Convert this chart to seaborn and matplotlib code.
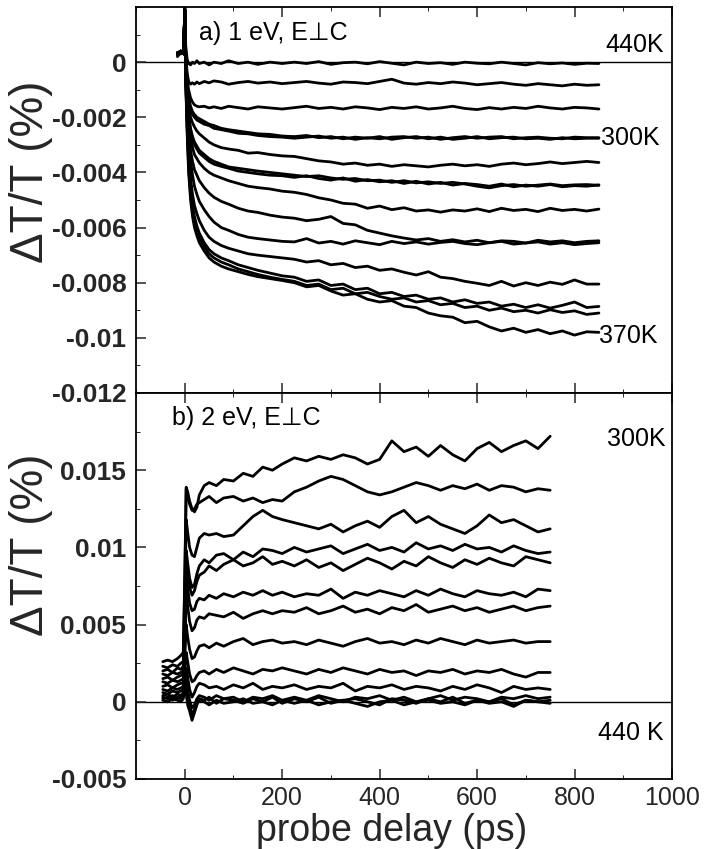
import numpy as np
import pandas as pd
import matplotlib
matplotlib.use("Agg")
import matplotlib.pyplot as plt
from matplotlib.ticker import MultipleLocator
import seaborn as sns

# values are read in units of 0.001 % (converted with SCALE below)
SCALE = 1e-3

# ---------------- panel a) 1 eV, E perp C ----------------
delay_a = [-15, -8, -2, 0, 2, 5, 8, 12, 16, 20, 25, 30, 40, 50, 60, 75, 90, 110, 130, 150, 175, 200,
           225, 250, 275, 300, 325, 350, 375, 400, 425, 450, 475, 500, 525, 550, 575, 600, 625, 650,
           675, 700, 725, 750, 775, 800, 825, 850]

a01 = [0.2, 0.35, 0.3, 1.8, 0.6, 0.1, -0.05, -0.1, 0.0, -0.05, 0.05, -0.05, 0.0, -0.1, 0.0, -0.05, 0.05, -0.05, 0.0, -0.08, 0.0, -0.05,
       0.0, -0.05, 0.02, -0.08, -0.02, 0.0, -0.06, 0.02, -0.04, -0.1, 0.0, -0.05, -0.02, -0.08, 0.0, -0.04, -0.06, 0.0, -0.05, -0.1, -0.02, -0.06, -0.03, -0.08, -0.04, -0.05]
a02 = [0.3, 0.4, 0.35, 1.9, 0.3, -0.4, -0.7, -0.8, -0.75, -0.8, -0.72, -0.78, -0.7, -0.75, -0.68, -0.72, -0.8, -0.74, -0.7, -0.76, -0.72, -0.78,
       -0.74, -0.7, -0.76, -0.8, -0.72, -0.74, -0.78, -0.7, -0.62, -0.76, -0.8, -0.74, -0.78, -0.72, -0.76, -0.82, -0.78, -0.74, -0.8, -0.84, -0.78, -0.82, -0.86, -0.8, -0.84, -0.82]
a03 = [0.35, 0.4, 0.3, 2.0, 0.2, -0.6, -1.0, -1.3, -1.45, -1.55, -1.6, -1.62, -1.6, -1.66, -1.62, -1.68, -1.6, -1.65, -1.7, -1.62, -1.66, -1.7,
       -1.65, -1.6, -1.68, -1.64, -1.7, -1.62, -1.66, -1.72, -1.64, -1.68, -1.62, -1.7, -1.66, -1.6, -1.68, -1.72, -1.65, -1.7, -1.64, -1.68, -1.6, -1.66, -1.7, -1.64, -1.66, -1.7]
a04 = [0.3, 0.4, 0.3, 2.0, 0.1, -0.8, -1.3, -1.6, -1.8, -1.9, -2.0, -2.05, -2.15, -2.25, -2.3, -2.4, -2.45, -2.5, -2.55, -2.6, -2.62, -2.68,
       -2.7, -2.66, -2.74, -2.7, -2.78, -2.72, -2.76, -2.7, -2.8, -2.74, -2.7, -2.78, -2.72, -2.8, -2.76, -2.7, -2.78, -2.74, -2.72, -2.78, -2.76, -2.8, -2.74, -2.78, -2.76, -2.76]
a05 = [0.25, 0.35, 0.4, 1.9, 0.0, -0.9, -1.4, -1.7, -1.9, -2.0, -2.1, -2.15, -2.25, -2.3, -2.4, -2.45, -2.5, -2.58, -2.6, -2.66, -2.7, -2.72,
       -2.76, -2.72, -2.68, -2.76, -2.72, -2.8, -2.74, -2.78, -2.72, -2.7, -2.76, -2.72, -2.8, -2.74, -2.7, -2.76, -2.72, -2.7, -2.78, -2.74, -2.72, -2.76, -2.78, -2.72, -2.74, -2.74]
a06 = [0.3, 0.35, 0.3, 2.0, 0.0, -1.0, -1.6, -2.0, -2.2, -2.35, -2.5, -2.6, -2.75, -2.9, -3.0, -3.1, -3.15, -3.2, -3.3, -3.28, -3.35, -3.4,
       -3.42, -3.5, -3.58, -3.62, -3.7, -3.66, -3.74, -3.7, -3.78, -3.72, -3.76, -3.8, -3.74, -3.7, -3.76, -3.72, -3.78, -3.7, -3.66, -3.72, -3.68, -3.62, -3.68, -3.64, -3.6, -3.64]
a07 = [0.3, 0.4, 0.3, 1.9, -0.1, -1.2, -1.9, -2.4, -2.7, -2.9, -3.05, -3.2, -3.35, -3.5, -3.6, -3.7, -3.8, -3.85, -3.9, -3.95, -4.0, -4.05,
       -4.1, -4.15, -4.12, -4.2, -4.25, -4.22, -4.3, -4.28, -4.36, -4.3, -4.38, -4.34, -4.4, -4.36, -4.42, -4.5, -4.56, -4.48, -4.44, -4.5, -4.46, -4.42, -4.48, -4.45, -4.44, -4.47]
a08 = [0.35, 0.3, 0.4, 1.9, -0.15, -1.3, -2.0, -2.5, -2.8, -3.0, -3.15, -3.3, -3.45, -3.6, -3.7, -3.78, -3.85, -3.95, -4.0, -4.05, -4.1, -4.12,
       -4.18, -4.12, -4.22, -4.28, -4.2, -4.32, -4.26, -4.34, -4.3, -4.4, -4.32, -4.42, -4.36, -4.46, -4.4, -4.44, -4.5, -4.42, -4.52, -4.46, -4.5, -4.44, -4.52, -4.48, -4.5, -4.45]
a09 = [0.3, 0.35, 0.3, 1.9, -0.2, -1.4, -2.2, -2.8, -3.1, -3.35, -3.5, -3.65, -3.85, -4.0, -4.1, -4.2, -4.3, -4.4, -4.5, -4.55, -4.6, -4.68,
       -4.72, -4.8, -4.92, -5.0, -5.12, -5.15, -5.3, -5.22, -5.35, -5.28, -5.4, -5.36, -5.44, -5.36, -5.4, -5.32, -5.42, -5.3, -5.38, -5.34, -5.42, -5.3, -5.38, -5.34, -5.4, -5.33]
a10 = [0.3, 0.4, 0.35, 1.9, -0.3, -1.6, -2.5, -3.2, -3.6, -3.9, -4.1, -4.3, -4.55, -4.75, -4.9, -5.05, -5.15, -5.3, -5.4, -5.45, -5.55, -5.62,
       -5.66, -5.75, -5.7, -5.6, -5.85, -5.9, -6.1, -6.2, -6.3, -6.38, -6.45, -6.4, -6.5, -6.44, -6.52, -6.46, -6.55, -6.48, -6.5, -6.56, -6.46, -6.52, -6.48, -6.55, -6.5, -6.48]
a11 = [0.3, 0.35, 0.3, 1.9, -0.4, -1.8, -2.8, -3.6, -4.1, -4.5, -4.8, -5.05, -5.35, -5.6, -5.8, -6.0, -6.1, -6.25, -6.35, -6.4, -6.45, -6.5,
       -6.52, -6.4, -6.56, -6.5, -6.6, -6.48, -6.55, -6.62, -6.5, -6.58, -6.52, -6.6, -6.54, -6.5, -6.58, -6.62, -6.55, -6.5, -6.6, -6.56, -6.52, -6.6, -6.55, -6.62, -6.58, -6.55]
a12 = [0.3, 0.4, 0.3, 1.9, -0.5, -2.0, -3.2, -4.2, -4.8, -5.2, -5.5, -5.75, -6.1, -6.35, -6.5, -6.65, -6.75, -6.85, -6.95, -7.0, -7.05, -7.1,
       -7.15, -7.25, -7.2, -7.35, -7.3, -7.45, -7.4, -7.55, -7.5, -7.62, -7.72, -7.6, -7.8, -7.85, -7.95, -8.02, -8.1, -7.95, -8.12, -8.0, -8.1, -7.98, -8.06, -7.9, -8.05, -8.05]
a13 = [0.3, 0.4, 0.3, 1.9, -0.6, -2.3, -3.6, -4.6, -5.2, -5.6, -5.95, -6.2, -6.55, -6.8, -6.95, -7.1, -7.2, -7.35, -7.45, -7.55, -7.65, -7.75,
       -7.8, -7.95, -7.9, -8.1, -8.05, -8.25, -8.2, -8.4, -8.35, -8.5, -8.45, -8.6, -8.55, -8.7, -8.62, -8.75, -8.7, -8.85, -8.78, -8.9, -8.8, -8.92, -8.82, -8.7, -8.9, -8.86]
a14 = [0.3, 0.35, 0.3, 1.9, -0.6, -2.4, -3.8, -4.8, -5.4, -5.8, -6.1, -6.35, -6.7, -6.95, -7.1, -7.25, -7.35, -7.5, -7.6, -7.7, -7.8, -7.88,
       -7.95, -8.1, -8.05, -8.25, -8.2, -8.4, -8.35, -8.5, -8.6, -8.55, -8.7, -8.65, -8.8, -8.75, -8.9, -8.85, -9.0, -8.92, -9.05, -9.0, -9.1, -8.98, -9.08, -9.02, -9.15, -9.1]
a15 = [0.3, 0.4, 0.3, 1.9, -0.7, -2.6, -4.0, -5.0, -5.6, -6.0, -6.3, -6.55, -6.85, -7.1, -7.25, -7.4, -7.5, -7.6, -7.7, -7.78, -7.85, -7.92,
       -8.0, -8.15, -8.1, -8.3, -8.45, -8.4, -8.6, -8.7, -8.65, -8.85, -8.9, -9.1, -9.2, -9.25, -9.45, -9.4, -9.6, -9.75, -9.65, -9.8, -9.7, -9.85, -9.75, -9.9, -9.78, -9.8]

curves_a = [a01, a02, a03, a04, a05, a06, a07, a08, a09, a10, a11, a12, a13, a14, a15]

# ---------------- panel b) 2 eV, E perp C ----------------
delay_b = [-45, -35, -25, -15, -8, -3, 0, 3, 6, 10, 15, 20, 25, 30, 40, 50, 65, 80, 100, 120, 140, 160, 180, 200,
           225, 250, 275, 300, 325, 350, 375, 400, 425, 450, 475, 500, 525, 550, 575, 600, 625, 650, 675, 700, 725, 750]

b01 = [2.6, 2.7, 2.6, 2.8, 3.0, 3.2, 8.0, 13.9, 13.6, 13.0, 12.5, 12.3, 12.6, 13.4, 14.0, 14.2, 14.0, 14.4, 14.3, 14.8, 14.6, 15.2, 15.0, 15.4,
       15.8, 15.6, 15.9, 15.7, 16.0, 15.8, 15.4, 15.7, 16.9, 16.2, 16.5, 15.9, 16.6, 16.0, 15.6, 16.4, 16.8, 16.2, 16.6, 16.9, 16.4, 17.2]
b02 = [2.3, 2.2, 2.4, 2.3, 2.5, 2.6, 7.5, 13.8, 13.4, 12.8, 12.4, 12.5, 12.8, 12.9, 13.1, 13.3, 12.9, 13.2, 13.3, 13.0, 13.2, 12.9, 13.1, 13.0,
       13.6, 13.9, 14.3, 14.6, 14.4, 14.0, 13.6, 13.4, 13.6, 13.9, 14.2, 14.0, 13.7, 14.0, 13.8, 14.1, 13.7, 14.0, 13.9, 13.6, 13.8, 13.7]
b03 = [2.0, 2.1, 1.9, 2.2, 2.1, 2.3, 6.0, 11.8, 11.0, 10.0, 9.5, 9.4, 10.0, 10.6, 10.9, 10.8, 10.9, 10.7, 10.8, 11.4, 12.0, 12.4, 12.0, 11.8,
       11.6, 11.4, 11.2, 11.5, 11.0, 11.4, 11.7, 11.3, 12.0, 12.4, 11.6, 12.0, 11.5, 11.2, 10.9, 11.4, 12.1, 11.6, 11.8, 11.4, 11.0, 11.2]
b04 = [1.8, 1.7, 1.9, 1.8, 1.9, 2.0, 5.0, 9.8, 9.0, 8.0, 7.4, 7.6, 8.3, 8.8, 9.2, 9.0, 9.5, 9.6, 9.2, 9.7, 9.4, 9.9, 9.8, 9.6,
       10.0, 9.7, 9.9, 10.1, 9.6, 9.9, 10.2, 9.8, 10.0, 9.7, 10.3, 9.9, 10.1, 9.8, 10.2, 9.9, 10.0, 9.7, 10.1, 9.8, 9.6, 9.7]
b05 = [1.5, 1.6, 1.4, 1.6, 1.7, 1.8, 4.6, 9.2, 8.4, 7.4, 6.9, 7.2, 7.8, 8.2, 8.4, 8.8, 8.5, 8.9, 9.2, 8.8, 9.0, 9.4, 8.9, 9.1,
       8.8, 9.2, 8.7, 9.0, 8.5, 8.9, 9.3, 9.0, 8.6, 9.1, 8.8, 9.4, 9.0, 8.7, 9.2, 8.9, 9.3, 9.0, 8.8, 9.4, 9.2, 9.0]
b06 = [1.3, 1.2, 1.4, 1.3, 1.4, 1.5, 4.0, 8.2, 7.4, 6.4, 5.9, 6.0, 6.5, 6.7, 6.6, 6.9, 6.7, 7.0, 6.8, 7.1, 6.9, 7.2, 6.9, 7.1,
       6.8, 7.0, 6.9, 7.3, 6.7, 7.1, 6.9, 7.2, 7.0, 6.8, 7.2, 6.9, 7.3, 7.0, 6.8, 7.2, 7.0, 6.9, 7.1, 6.8, 7.3, 7.2]
b07 = [1.0, 1.1, 0.9, 1.1, 1.2, 1.2, 3.5, 7.0, 6.2, 5.2, 4.6, 4.8, 5.3, 5.5, 5.4, 5.7, 5.6, 5.5, 5.8, 5.4, 5.7, 5.9, 5.7, 5.9,
       5.8, 6.1, 5.7, 5.9, 6.2, 5.8, 6.0, 5.7, 6.1, 5.9, 6.3, 5.8, 6.0, 6.2, 5.9, 6.1, 5.8, 6.0, 6.2, 5.9, 6.1, 6.2]
b08 = [0.8, 0.7, 0.9, 0.8, 0.9, 1.0, 2.8, 5.0, 4.2, 3.4, 2.8, 2.9, 3.3, 3.6, 3.7, 3.5, 3.8, 3.6, 3.9, 4.1, 3.7, 3.9, 4.0, 3.8,
       3.9, 3.7, 4.0, 3.8, 3.6, 3.9, 4.1, 3.8, 3.9, 3.7, 4.0, 3.8, 4.1, 3.9, 3.7, 4.0, 3.8, 3.9, 4.0, 3.8, 3.9, 3.9]
b09 = [0.6, 0.5, 0.7, 0.6, 0.7, 0.8, 2.0, 3.2, 2.6, 1.8, 1.3, 1.4, 1.7, 1.9, 2.0, 1.8, 2.1, 1.9, 2.2, 2.0, 1.8, 2.1, 2.0, 2.2,
       2.0, 1.8, 2.1, 1.9, 2.2, 2.0, 1.8, 2.1, 1.9, 2.0, 1.7, 2.0, 1.9, 2.1, 1.8, 2.0, 1.9, 2.1, 1.8, 1.6, 1.9, 1.9]
b10 = [0.4, 0.5, 0.3, 0.5, 0.4, 0.6, 1.4, 2.2, 1.6, 0.8, 0.3, 0.6, 1.0, 1.2, 1.1, 0.9, 1.0, 0.8, 1.1, 0.9, 1.2, 0.8, 1.0, 0.9,
       1.1, 0.8, 1.0, 0.9, 1.2, 0.7, 1.0, 0.9, 1.1, 0.8, 1.0, 0.9, 0.7, 1.0, 0.8, 1.1, 0.9, 0.6, 1.0, 0.8, 0.9, 0.8]
b11 = [0.2, 0.3, 0.1, 0.3, 0.2, 0.3, 1.0, 1.5, 0.8, 0.1, -0.4, -0.2, 0.2, 0.4, 0.3, 0.1, 0.4, 0.2, 0.3, 0.0, 0.3, 0.2, 0.4, 0.1,
       0.3, 0.1, 0.4, 0.2, 0.0, 0.3, 0.2, 0.4, 0.1, 0.3, 0.0, 0.2, 0.4, 0.1, 0.3, 0.2, 0.0, 0.3, 0.2, 0.4, 0.2, 0.3]
b12 = [0.1, 0.0, 0.2, 0.1, 0.0, 0.2, 0.8, 1.0, 0.3, -0.3, -0.8, -0.5, -0.1, 0.1, 0.0, -0.2, 0.1, -0.1, 0.0, 0.2, -0.1, 0.0, -0.2, 0.1,
       -0.1, 0.1, -0.2, 0.0, 0.1, -0.1, -0.3, 0.0, 0.1, -0.2, 0.0, 0.1, -0.1, 0.0, -0.2, 0.1, -0.1, 0.0, -0.3, 0.1, 0.0, -0.1]
b13 = [0.3, 0.2, 0.4, 0.2, 0.3, 0.4, 0.6, 0.5, -0.2, -0.6, -1.2, -0.7, -0.2, 0.2, 0.1, 0.3, -0.1, 0.2, 0.1, -0.1, 0.2, 0.0, 0.3, -0.1,
       0.2, 0.0, 0.3, -0.1, 0.1, 0.2, 0.0, -0.2, 0.2, 0.1, -0.1, 0.2, 0.0, 0.3, -0.1, 0.1, 0.0, 0.2, -0.2, 0.1, 0.0, 0.1]

curves_b = [b01, b02, b03, b04, b05, b06, b07, b08, b09, b10, b11, b12, b13]

# axis ticks / labels
xticks = [0, 200, 400, 600, 800, 1000]
yticks_a = [0, -0.002, -0.004, -0.006, -0.008, -0.01, -0.012]
yticklabels_a = ["0", "-0.002", "-0.004", "-0.006", "-0.008", "-0.01", "-0.012"]
yticks_b = [-0.005, 0, 0.005, 0.01, 0.015]
yticklabels_b = ["-0.005", "0", "0.005", "0.01", "0.015"]


def long_frame(delay, curves):
    rows = []
    for i, c in enumerate(curves):
        rows.append(pd.DataFrame({"delay": delay, "dT": np.asarray(c) * SCALE, "curve": f"c{i:02d}"}))
    return pd.concat(rows, ignore_index=True)


df_a = long_frame(delay_a, curves_a)
df_b = long_frame(delay_b, curves_b)

sns.set_theme(style="ticks")
plt.rcParams["font.family"] = ["Liberation Sans", "DejaVu Sans"]
plt.rcParams["axes.linewidth"] = 1.3

fig = plt.figure(figsize=(7.09, 8.49), dpi=100)
W, H = 709.0, 849.0
L, R = 136, 672
ax1 = fig.add_axes([L / W, 1 - 393 / H, (R - L) / W, (393 - 7) / H])
ax2 = fig.add_axes([L / W, 1 - 779 / H, (R - L) / W, (779 - 393) / H])

for ax, df, n in ((ax1, df_a, len(curves_a)), (ax2, df_b, len(curves_b))):
    sns.lineplot(data=df, x="delay", y="dT", hue="curve", palette=["black"] * n,
                 estimator=None, sort=False, legend=False, linewidth=2.0, ax=ax)
    ax.axhline(0, color="black", linewidth=1.0, zorder=0)
    ax.set_xlim(-100, 1000)
    ax.set_xticks(xticks)
    ax.xaxis.set_minor_locator(MultipleLocator(100))
    ax.tick_params(which="major", direction="in", top=True, right=False, length=7, width=1.1)
    ax.tick_params(which="minor", direction="in", top=True, right=False, length=3, width=0.7)
    ax.set_xlabel("")
    ax.set_ylabel("ΔT/T (%)", fontsize=33)
    for s in ax.spines.values():
        s.set_color("black")

ax1.set_ylim(-0.012, 0.002)
ax1.set_yticks(yticks_a)
ax1.set_yticklabels(yticklabels_a)
ax1.yaxis.set_minor_locator(MultipleLocator(0.001))
ax1.tick_params(axis="x", labelbottom=False)

ax2.set_ylim(-0.005, 0.02)
ax2.set_yticks(yticks_b)
ax2.set_yticklabels(yticklabels_b)
ax2.yaxis.set_minor_locator(MultipleLocator(0.0025))
ax2.set_xticklabels([str(v) for v in xticks])
ax2.set_xlabel("probe delay (ps)", fontsize=27)
ax2.xaxis.set_label_coords(0.476, -0.089)

for ax in (ax1, ax2):
    for lab in ax.get_yticklabels():
        lab.set_fontsize(19)
        lab.set_fontweight("bold")
    ax.tick_params(axis="y", pad=7)
    ax.tick_params(axis="x", pad=5, labelsize=18)

ax1.yaxis.set_label_coords(-0.155, 0.573)
ax2.yaxis.set_label_coords(-0.155, 0.606)

txt = dict(fontsize=18, color="black", va="center")
ax1.text(29, 0.00105, "a) 1 eV, E⊥C", ha="left", **txt)
ax1.text(864, 0.00061, "440K", ha="left", **txt)
ax1.text(855, -0.00274, "300K", ha="left", **txt)
ax1.text(850, -0.00995, "370K", ha="left", **txt)
ax2.text(-27, 0.0184, "b) 2 eV, E⊥C", ha="left", **txt)
ax2.text(866, 0.0170, "300K", ha="left", **txt)
ax2.text(848, -0.0020, "440 K", ha="left", **txt)

fig.savefig("out.png", dpi=100)
